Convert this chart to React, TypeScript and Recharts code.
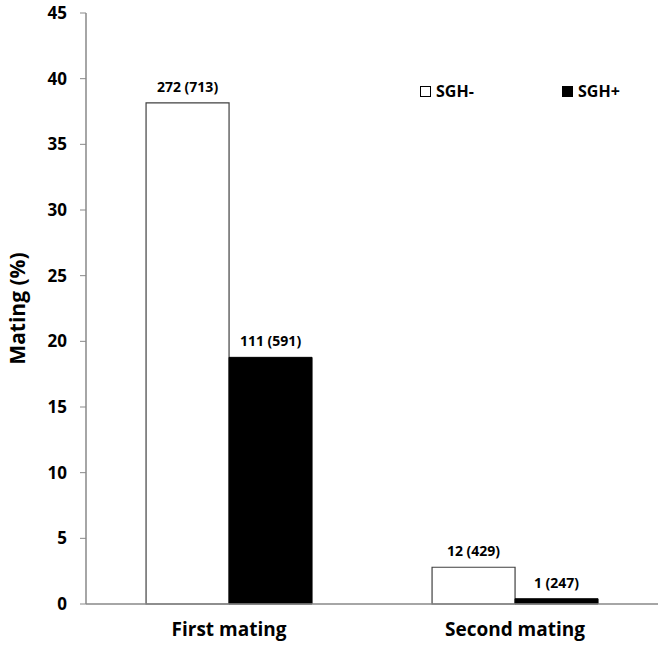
import React from "react";
import { BarChart, Bar, XAxis, YAxis, LabelList, Label } from "recharts";

const categories = ["First mating", "Second mating"];
const sghMinus = [38.15, 2.8];
const sghPlus = [18.78, 0.4];
const sghMinusLabels = ["272 (713)", "12 (429)"];
const sghPlusLabels = ["111 (591)", "1 (247)"];
const yTicks = [0, 5, 10, 15, 20, 25, 30, 35, 40, 45];
const legendNames = ["SGH-", "SGH+"];

const data = categories.map((c, i) => ({
  name: c,
  minus: sghMinus[i],
  plus: sghPlus[i],
  minusLabel: sghMinusLabels[i],
  plusLabel: sghPlusLabels[i],
}));

const FONT = "'Open Sans', 'DejaVu Sans', sans-serif";

export default function App() {
  return (
    <div style={{ position: "absolute", left: 0, top: 0, width: 664, height: 646, background: "#fff" }}>
      <BarChart
        width={664}
        height={646}
        data={data}
        margin={{ top: 13, right: 6, left: 26, bottom: 12 }}
        barCategoryGap="21%"
        barGap={0}
      >
        <XAxis
          dataKey="name"
          height={30}
          tickLine={false}
          axisLine={{ stroke: "#898989", strokeWidth: 1.5 }}
          tick={{ fill: "#000", fontFamily: FONT, fontWeight: 700, fontSize: 19 }}
          tickMargin={13}
        />
        <YAxis
          width={60}
          domain={[0, 45]}
          ticks={yTicks}
          interval={0}
          tickSize={6}
          tickMargin={13}
          axisLine={{ stroke: "#898989", strokeWidth: 1.5 }}
          tickLine={{ stroke: "#898989" }}
          tick={{ fill: "#000", fontFamily: FONT, fontWeight: 700, fontSize: 17 }}
        >
          <Label
            value="Mating (%)"
            angle={-90}
            position="insideLeft"
            offset={-8}
            style={{ fill: "#000", fontFamily: FONT, fontWeight: 700, fontSize: 21, textAnchor: "middle" }}
          />
        </YAxis>
        <Bar dataKey="minus" fill="#fff" stroke="#404040" strokeWidth={1.2} isAnimationActive={false}>
          <LabelList dataKey="minusLabel" position="top" offset={11} style={{ fill: "#000", fontFamily: FONT, fontWeight: 700, fontSize: 14 }} />
        </Bar>
        <Bar dataKey="plus" fill="#000" stroke="#000" isAnimationActive={false}>
          <LabelList dataKey="plusLabel" position="top" offset={11} style={{ fill: "#000", fontFamily: FONT, fontWeight: 700, fontSize: 14 }} />
        </Bar>
      </BarChart>
      <div
        style={{
          position: "absolute",
          left: 420,
          top: 80,
          display: "flex",
          alignItems: "center",
          fontFamily: FONT,
          fontWeight: 700,
          fontSize: 16,
          color: "#000",
        }}
      >
        <span style={{ display: "inline-block", width: 9, height: 9, border: "1px solid #000", background: "#fff", marginRight: 5 }} />
        <span style={{ width: 126 }}>{legendNames[0]}</span>
        <span style={{ display: "inline-block", width: 11, height: 11, background: "#000", marginRight: 5 }} />
        <span>{legendNames[1]}</span>
      </div>
    </div>
  );
}
